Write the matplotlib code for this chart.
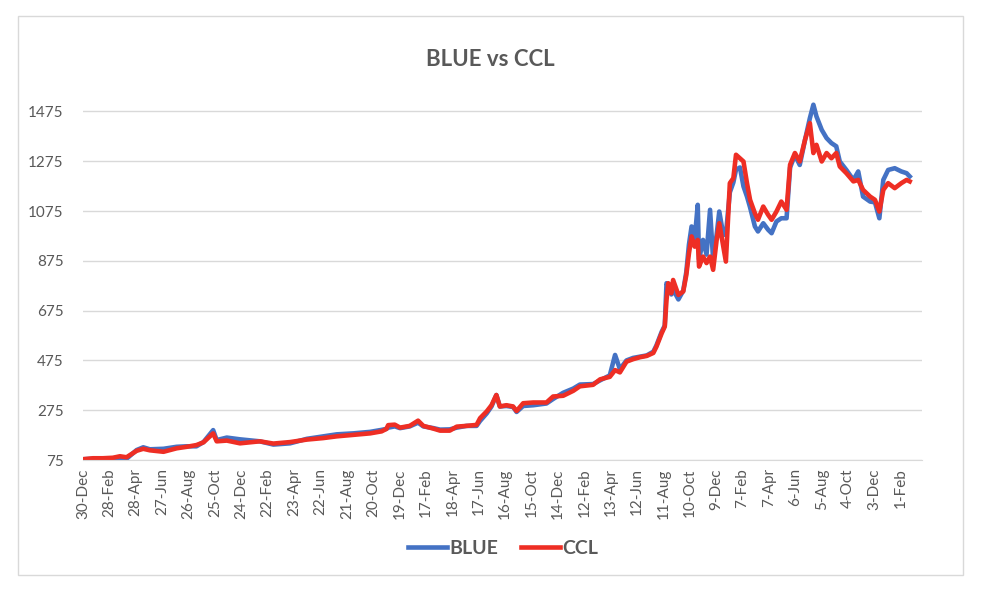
import matplotlib
matplotlib.use("Agg")
import matplotlib.pyplot as plt
import pandas as pd
from matplotlib.patches import Rectangle

plt.rcParams['font.family'] = ['Lato', 'DejaVu Sans']

# values (ARS per USD)
dates = [
    "2019-12-30", "2020-01-22", "2020-02-13", "2020-03-07", "2020-03-23", "2020-04-07",
    "2020-04-30", "2020-05-15", "2020-05-30", "2020-06-30", "2020-07-30", "2020-08-22",
    "2020-09-13", "2020-09-29", "2020-10-21", "2020-10-29", "2020-11-21", "2020-12-21",
    "2021-02-04", "2021-03-07", "2021-04-14", "2021-05-22", "2021-06-28", "2021-07-29",
    "2021-09-05", "2021-10-13", "2021-11-08", "2021-11-19", "2021-11-23", "2021-12-08",
    "2021-12-20", "2022-01-11", "2022-01-30", "2022-02-11", "2022-03-06", "2022-03-21",
    "2022-04-12", "2022-04-28", "2022-05-20", "2022-06-12", "2022-06-20", "2022-07-05",
    "2022-07-16", "2022-07-27", "2022-08-04", "2022-08-19", "2022-09-03", "2022-09-11",
    "2022-09-26", "2022-10-19", "2022-11-18", "2022-12-03", "2022-12-26", "2023-01-18",
    "2023-02-02", "2023-03-04", "2023-03-20", "2023-04-11", "2023-04-23", "2023-05-04",
    "2023-05-19", "2023-06-03", "2023-06-19", "2023-07-04", "2023-07-19", "2023-07-26",
    "2023-08-07", "2023-08-14", "2023-08-18", "2023-08-22", "2023-08-29", "2023-09-02",
    "2023-09-14", "2023-09-25", "2023-10-02", "2023-10-08", "2023-10-14", "2023-10-21",
    "2023-10-28", "2023-10-31", "2023-11-09", "2023-11-17", "2023-11-25", "2023-12-02",
    "2023-12-10", "2023-12-16", "2023-12-25", "2023-12-31", "2024-01-09", "2024-01-17",
    "2024-01-23", "2024-02-01", "2024-02-09", "2024-02-17", "2024-02-24", "2024-03-06",
    "2024-03-13", "2024-03-25", "2024-04-05", "2024-04-13", "2024-04-24", "2024-05-05",
    "2024-05-17", "2024-05-25", "2024-06-05", "2024-06-16", "2024-06-28", "2024-07-09",
    "2024-07-17", "2024-07-24", "2024-08-05", "2024-08-16", "2024-08-27", "2024-09-07",
    "2024-09-15", "2024-09-30", "2024-10-16", "2024-10-27", "2024-11-07", "2024-11-23",
    "2024-12-04", "2024-12-14", "2024-12-23", "2025-01-03", "2025-01-18", "2025-02-02",
    "2025-02-14", "2025-02-21",
]
blue = [
    78, 80, 80, 82, 84, 80,
    115, 126, 118, 120, 128, 130,
    130, 147, 195, 155, 165, 158,
    150, 137, 142, 160, 170, 178,
    182, 188, 196, 200, 205, 210,
    203, 210, 225, 210, 203, 197,
    198, 205, 212, 212, 232, 262,
    290, 336, 290, 292, 288, 268,
    292, 295, 302, 320, 345, 362,
    378, 380, 395, 415, 497, 440,
    475, 485, 490, 495, 510, 535,
    590, 615, 785, 770, 740, 760,
    720, 755, 830, 940, 1013, 960,
    1100, 880, 959, 900, 1080, 880,
    980, 1073, 980, 980, 1150, 1190,
    1241, 1250, 1174, 1133, 1090, 1013,
    993, 1026, 1000, 986, 1033, 1046,
    1046, 1250, 1300, 1260, 1361, 1448,
    1502, 1455, 1401, 1368, 1348, 1335,
    1274, 1240, 1200, 1234, 1133, 1113,
    1110, 1046, 1200, 1240, 1247, 1234,
    1227, 1214,
]
ccl = [
    78, 82, 82, 84, 90, 86,
    112, 120, 114, 108, 122, 128,
    135, 146, 182, 150, 153, 142,
    150, 141, 147, 157, 163, 170,
    176, 182, 190, 200, 215, 217,
    205, 212, 233, 212, 201, 193,
    193, 209, 212, 216, 243, 270,
    295, 336, 290, 295, 290, 272,
    303, 306, 306, 330, 333, 353,
    371, 377, 399, 409, 436, 427,
    470, 480, 488, 493, 505, 530,
    584, 611, 718, 785, 745, 798,
    738, 752, 818, 905, 973, 932,
    959, 852, 892, 866, 892, 839,
    959, 1026, 932, 872, 1187, 1207,
    1301, 1287, 1274, 1187, 1120, 1066,
    1040, 1093, 1060, 1040, 1073, 1113,
    1080, 1261, 1308, 1274, 1361, 1428,
    1308, 1341, 1274, 1308, 1287, 1308,
    1254, 1227, 1194, 1200, 1160, 1133,
    1120, 1073, 1160, 1187, 1167, 1187,
    1200, 1194,
]

x = pd.to_datetime(dates)
start = pd.Timestamp("2019-12-30")
tick_dates = [start + pd.Timedelta(days=60 * k) for k in range(32)]
tick_labels = [f"{d.day}-{d.strftime('%b')}" for d in tick_dates]

text_col = '#595959'
grid_col = '#d9d9d9'

fig = plt.figure(figsize=(9.81, 5.93), dpi=100)
# chart area border
fig.patches.append(Rectangle((18 / 981, 1 - 575 / 593), 945 / 981, 559 / 593,
                             transform=fig.transFigure, fill=False,
                             edgecolor=grid_col, linewidth=1))

ax = fig.add_axes([83 / 981, 133 / 593, 839 / 981, 361 / 593])
ax.plot(x, blue, color='#4472C4', linewidth=3.3, label='BLUE', solid_joinstyle='round')
ax.plot(x, ccl, color='#EE2E24', linewidth=3.3, label='CCL', solid_joinstyle='round')

ax.set_ylim(75, 1525)
ax.set_yticks(range(75, 1476, 200))
ax.set_xlim(start, start + pd.Timedelta(days=1908))
ax.set_xticks(tick_dates)
ax.set_xticklabels(tick_labels, rotation=90)

ax.grid(axis='y', color=grid_col, linewidth=1)
ax.set_axisbelow(True)
for s in ['top', 'right', 'left']:
    ax.spines[s].set_visible(False)
ax.spines['bottom'].set_color(grid_col)
ax.tick_params(axis='both', length=0, colors=text_col, labelsize=11)
ax.tick_params(axis='y', pad=14)
ax.tick_params(axis='x', pad=6)

fig.text(0.5, 1 - 59 / 593, 'BLUE vs CCL', ha='center', va='center',
         fontsize=16, fontweight='bold', color=text_col)

leg = fig.legend(loc='center', bbox_to_anchor=(503 / 981, 1 - 548 / 593), ncol=2,
                 frameon=False, fontsize=14, handlelength=2.0, columnspacing=1.2,
                 handletextpad=0.1)
for t in leg.get_texts():
    t.set_color(text_col)
    t.set_fontweight('bold')

fig.savefig('out.png', dpi=100)
